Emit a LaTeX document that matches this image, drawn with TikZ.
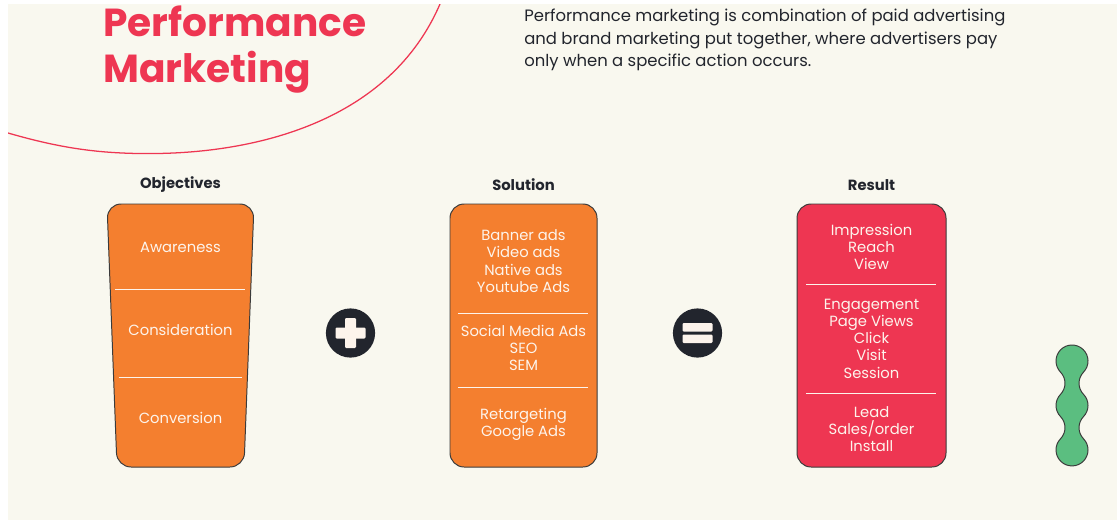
\documentclass[tikz,border=0pt]{standalone}
\usepackage{fontspec}
\setmainfont{Poppins}
\usetikzlibrary{calc}
\definecolor{cream}{HTML}{F9F8EF}
\definecolor{pmred}{HTML}{EE3652}
\definecolor{pmorange}{HTML}{F47F2F}
\definecolor{pmgreen}{HTML}{5BBE80}
\definecolor{ink}{HTML}{22252D}
\definecolor{edge}{HTML}{3B3B3B}
\definecolor{paper}{HTML}{FDF4EC}

\begin{document}
\begin{tikzpicture}[x=0.025cm, y=0.025cm,
	coltitle/.style={font=\bfseries\fontsize{10.5}{12}\selectfont, text=ink},
	boxtext/.style={text=paper, align=center, font=\fontsize{10.5}{12.3}\selectfont},
	box/.style={draw=edge, line width=0.7pt, rounded corners=10pt},
	divider/.style={draw=paper, line width=0.6pt},
	sign/.style={circle, fill=ink, minimum size=1.23cm, inner sep=0pt}]
			%%%%% BACKGROUND %%%%%
			\useasboundingbox (0,0) rectangle (1117,-521);
			\fill[white] (0,0) rectangle (1117,-521);
			\fill[cream] (8,-4) rectangle (1117,-520);
			
			\begin{scope}
				\clip (8,-4) rectangle (1117,-520);
				\draw[pmred, line width=0.9pt] (8,-133) .. controls (60,-148) and (100,-154.3) .. (157,-153.5)
					.. controls (260,-152) and (390,-120) .. (440,-4);
			\end{scope}
			
			%%%%% HEADER %%%%%
			\node[anchor=north west, inner sep=0pt, align=left, text=pmred,
				font=\bfseries\fontsize{27.8}{32.5}\selectfont] (title) at (103,-6) {Performance\\Marketing};
			\node[anchor=north west, inner sep=0pt, align=left, text=ink,
				font=\fontsize{11.7}{16}\selectfont] (intro) at (524,-9)
				{Performance marketing is combination of paid advertising\\and brand marketing put together, where advertisers pay\\only when a specific action occurs.};
			
			%%%%% OBJECTIVES %%%%%
			\node[coltitle] (objhead) at (180.5,-185) {Objectives};
			\draw[box, fill=pmorange] (107,-204) -- (254,-204) -- (244,-467) -- (117,-467) -- cycle;
			\draw[divider] (115,-289) -- (245,-289);
			\draw[divider] (119,-377) -- (242,-377);
			\node[boxtext] (aware) at (180.5,-247) {Awareness};
			\node[boxtext] (consid) at (180.5,-330) {Consideration};
			\node[boxtext] (conv) at (180.5,-418) {Conversion};
			
			%%%%% PLUS %%%%%
			\node[sign] (plus) at (350.5,-333) {};
			\fill[paper, rounded corners=0.8pt] ($(plus)+(-15,-5.5)$) rectangle ($(plus)+(15,5.5)$);
			\fill[paper, rounded corners=0.8pt] ($(plus)+(-5.5,-15)$) rectangle ($(plus)+(5.5,15)$);
			
			%%%%% SOLUTION %%%%%
			\node[coltitle] (solhead) at (523.5,-185) {Solution};
			\draw[box, fill=pmorange] (450,-204) rectangle (597,-467);
			\draw[divider] (458,-313) -- (588,-313);
			\draw[divider] (458,-387) -- (588,-387);
			\node[boxtext] (paid) at (523.5,-261) {Banner ads\\Video ads\\Native ads\\Youtube Ads};
			\node[boxtext] (social) at (523.5,-348) {Social Media Ads\\SEO\\SEM};
			\node[boxtext] (retarget) at (523.5,-424.5) {Retargeting\\Google Ads};
			
			%%%%% EQUALS %%%%%
			\node[sign] (equals) at (697.5,-333) {};
			\fill[paper, rounded corners=0.8pt] ($(equals)+(-15,1.5)$) rectangle ($(equals)+(15,10)$);
			\fill[paper, rounded corners=0.8pt] ($(equals)+(-15,-1.5)$) rectangle ($(equals)+(15,-10)$);
			
			%%%%% RESULT %%%%%
			\node[coltitle] (reshead) at (871.5,-185) {Result};
			\draw[box, fill=pmred] (797,-204) rectangle (946,-467);
			\draw[divider] (806,-284) -- (936,-284);
			\draw[divider] (806,-393) -- (936,-393);
			\node[boxtext] (reach) at (871.5,-247) {Impression\\Reach\\View};
			\node[boxtext] (engage) at (871.5,-338.5) {Engagement\\Page Views\\Click\\Visit\\Session};
			\node[boxtext] (lead) at (871.5,-429) {Lead\\Sales/order\\Install};
			
			%%%%% BLOB %%%%%
			\coordinate (g1) at (1072,-361);
			\coordinate (g2) at (1072,-405.5);
			\coordinate (g3) at (1072,-450);
			\draw[fill=pmgreen, draw=edge, line width=0.7pt] ($(g1)+(-44:16)$)
				arc[start angle=-44, end angle=224, radius=16]
				arc[start angle=44, end angle=-44, radius=16]
				arc[start angle=136, end angle=224, radius=16]
				arc[start angle=44, end angle=-44, radius=16]
				arc[start angle=136, end angle=404, radius=16]
				arc[start angle=224, end angle=136, radius=16]
				arc[start angle=-44, end angle=44, radius=16]
				arc[start angle=224, end angle=136, radius=16] -- cycle;
		\end{tikzpicture}
\end{document}
